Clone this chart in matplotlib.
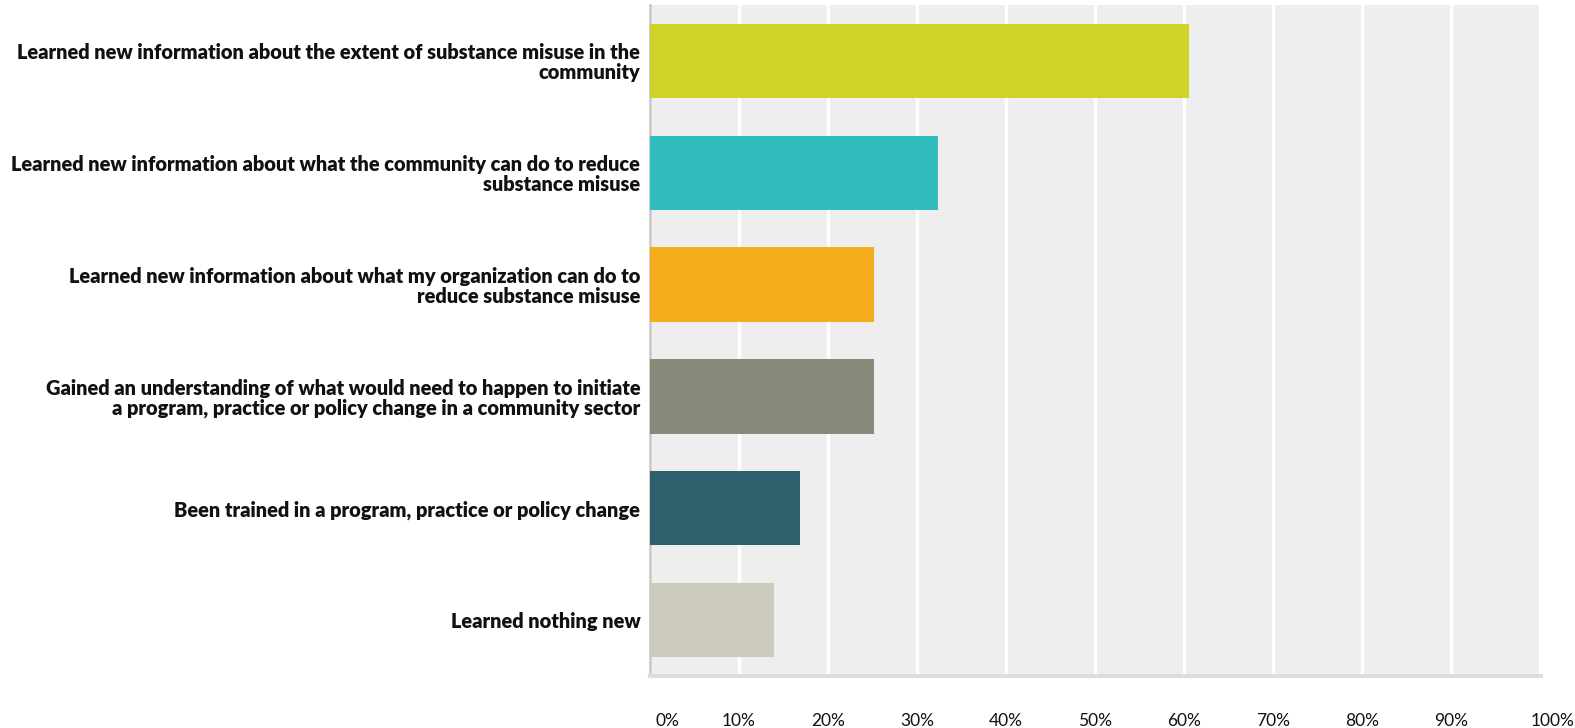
import matplotlib.pyplot as plt
import matplotlib.transforms as mtransforms

# Survey responses (% of respondents)
labels = [
    "Learned new information about the extent of substance misuse in the\ncommunity",
    "Learned new information about what the community can do to reduce\nsubstance misuse",
    "Learned new information about what my organization can do to\nreduce substance misuse",
    "Gained an understanding of what would need to happen to initiate\na program, practice or policy change in a community sector",
    "Been trained in a program, practice or policy change",
    "Learned nothing new",
]
values = [60.5, 32.4, 25.2, 25.2, 16.9, 13.9]
colors = ["#CED427", "#33BCBE", "#F5AD1C", "#888978", "#2E5F6C", "#CDCBBE"]
xticks = list(range(0, 101, 10))
xticklabels = [f"{t}%" for t in xticks]

fig = plt.figure(figsize=(15.75, 7.28), dpi=100)
ax = fig.add_axes([650 / 1575, 1 - 676 / 728, 891 / 1575, 671 / 728])
ax.set_facecolor("#EEEEEE")

ypos = list(range(len(labels)))
ax.barh(ypos, values, height=0.665, color=colors, zorder=3)

ax.set_xlim(0, 100.1)
ax.set_ylim(len(labels) - 0.5, -0.5)

ax.set_xticks(xticks)
ax.set_xticklabels(xticklabels, fontsize=12.5, family="Lato", color="#111111")
ax.grid(axis="x", color="white", linewidth=2.5, zorder=1)
ax.tick_params(axis="x", length=0, pad=27)

# nudge the end labels the way the survey tool lays them out
xl = ax.get_xticklabels()
xl[0].set_transform(xl[0].get_transform() + mtransforms.ScaledTranslation(17 / 100, 0, fig.dpi_scale_trans))
xl[-1].set_transform(xl[-1].get_transform() + mtransforms.ScaledTranslation(12 / 100, 0, fig.dpi_scale_trans))

ax.set_yticks(ypos)
ax.set_yticklabels(labels, fontsize=14.4, family="Lato", fontweight="heavy",
                   color="#111111", linespacing=1.05)
ax.tick_params(axis="y", length=0, pad=7)

for side in ["top", "right"]:
    ax.spines[side].set_visible(False)
ax.spines["left"].set_color("#CCCCCC")
ax.spines["left"].set_linewidth(2)
ax.spines["bottom"].set_color("#DDDDDD")
ax.spines["bottom"].set_linewidth(3)

fig.savefig("out.png", dpi=100)
